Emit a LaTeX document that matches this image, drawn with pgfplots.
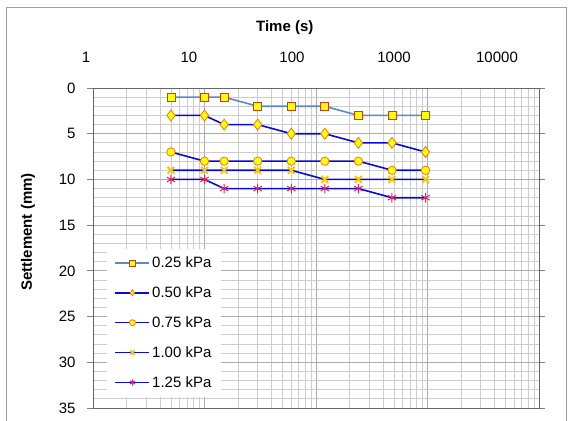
\documentclass[border=0pt]{standalone}
\usepackage{fontspec}
\setmainfont{Liberation Sans}
\usepackage{pgfplots}
\pgfplotsset{compat=1.18}
\definecolor{sline}{HTML}{5A8AC2}
\definecolor{bline}{HTML}{0A0AD8}
\definecolor{mfill}{HTML}{FFFF00}
\definecolor{sqedge}{HTML}{C8401A}
\definecolor{oedge}{HTML}{EE7A10}
\definecolor{xcol}{HTML}{F8C800}
\definecolor{stcol}{HTML}{E0205A}
\definecolor{gmaj}{HTML}{ABABAB}
\definecolor{gmin}{HTML}{CDCDCD}
\begin{document}
\begin{tikzpicture}
\path[use as bounding box] (0pt,0pt) rectangle (569pt,420pt);
\draw[gray!75, line width=0.9pt] (6pt,-2pt) -- (6pt,413pt) -- (566pt,413pt) -- (566pt,-2pt);
\begin{axis}[
  at={(93pt,12pt)}, anchor=south west,
  scale only axis, width=446pt, height=320pt,
  clip=false,
  xmode=log, xmin=1, xmax=10000,
  xtick={1,10,100,1000,10000},
  xticklabels={},
  xtick style={draw=none},
  minor x tick style={draw=none},
  ymin=0, ymax=35, y dir=reverse,
  ytick={0,5,...,35},
  minor y tick num=4,
  minor y tick style={draw=none},
  ytick style={draw=gray, line width=0.8pt},
  tick align=outside, major tick length=6pt,
  yticklabel style={anchor=east, xshift=-8pt},
  /pgf/number format/assume math mode=true,
  tick label style={font=\fontsize{15pt}{18pt}\selectfont},
  grid=both,
  major grid style={gmaj, line width=0.9pt},
  minor grid style={gmin, line width=0.8pt},
  axis line style={gray!80!black, line width=1pt},
  xlabel={Time (s)},
  xlabel style={at={(axis description cs:0.43,1)}, anchor=center, yshift=60pt, font=\bfseries\fontsize{15pt}{18pt}\selectfont},
  ylabel={Settlement (mm)},
  ylabel style={at={(axis description cs:-0.1457,0.55)}, anchor=center, font=\bfseries\fontsize{15pt}{18pt}\selectfont},
  legend style={at={(0.03,0.035)}, anchor=south west, draw=none, fill=white,
    font=\fontsize{15pt}{18pt}\selectfont, row sep=13.5pt, inner xsep=8pt, inner ysep=6pt,
    cells={anchor=west}},
  legend image code/.code={\draw[#1] (0pt,0pt) -- (34pt,0pt); \draw[#1, mark size=3pt] plot coordinates {(17pt,0pt)};},
]
\addplot[sline, line width=1.6pt, mark=square*, mark size=4pt, mark options={fill=mfill, draw=sqedge, line width=0.8pt, solid}]
 coordinates {(5,1) (10,1) (15,1) (30,2) (60,2) (120,2) (240,3) (480,3) (960,3)};
\addlegendentry{0.25 kPa}
\addplot[bline, line width=1.6pt, mark=diamond*, mark size=5.5pt, mark options={fill=mfill, draw=oedge, line width=0.8pt, solid}]
 coordinates {(5,3) (10,3) (15,4) (30,4) (60,5) (120,5) (240,6) (480,6) (960,7)};
\addlegendentry{0.50 kPa}
\addplot[bline, line width=1.6pt, mark=*, mark size=4.2pt, mark options={fill=mfill, draw=oedge, line width=0.8pt, solid}]
 coordinates {(5,7) (10,8) (15,8) (30,8) (60,8) (120,8) (240,8) (480,9) (960,9)};
\addlegendentry{0.75 kPa}
\addplot[bline, line width=1.6pt, mark=x, mark size=4.8pt, mark options={draw=xcol, line width=2pt, solid}]
 coordinates {(5,9) (10,9) (15,9) (30,9) (60,9) (120,10) (240,10) (480,10) (960,10)};
\addlegendentry{1.00 kPa}
\addplot[bline, line width=1.6pt, mark=asterisk, mark size=4.8pt, mark options={draw=stcol, line width=1pt, solid}]
 coordinates {(5,10) (10,10) (15,11) (30,11) (60,11) (120,11) (240,11) (480,12) (960,12)};
\addlegendentry{1.25 kPa}
\node[anchor=base, font=\fontsize{15pt}{18pt}\selectfont] at (axis description cs:-0.0157,1) [yshift=26pt] {1};
\node[anchor=base, font=\fontsize{15pt}{18pt}\selectfont] at (axis description cs:0.2152,1) [yshift=26pt] {10};
\node[anchor=base, font=\fontsize{15pt}{18pt}\selectfont] at (axis description cs:0.4462,1) [yshift=26pt] {100};
\node[anchor=base, font=\fontsize{15pt}{18pt}\selectfont] at (axis description cs:0.6749,1) [yshift=26pt] {1000};
\node[anchor=base, font=\fontsize{15pt}{18pt}\selectfont] at (axis description cs:0.9058,1) [yshift=26pt] {10000};
\end{axis}
\end{tikzpicture}
\end{document}
